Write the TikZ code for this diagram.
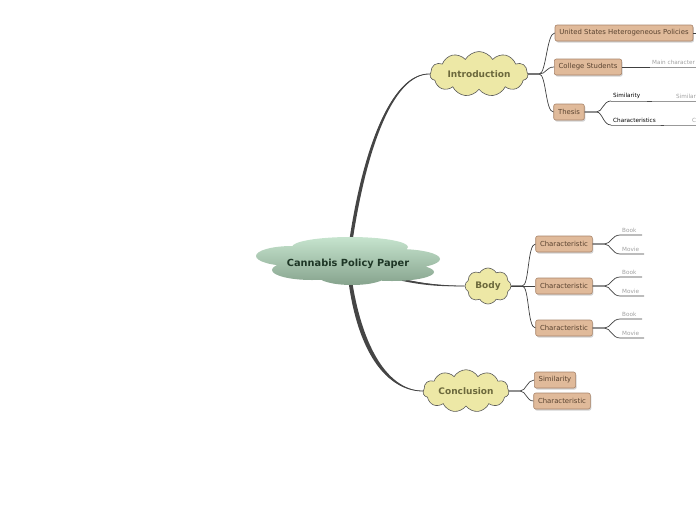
\documentclass[tikz,border=0pt]{standalone}
\usepackage{fontspec}
\setmainfont{DejaVu Sans}
\usetikzlibrary{shapes.symbols,shadows,backgrounds}

\definecolor{rootTop}{HTML}{C6E4CE}
\definecolor{rootBot}{HTML}{86A38D}
\definecolor{rootText}{HTML}{1E3626}
\definecolor{cloudFill}{HTML}{EDE8A6}
\definecolor{cloudText}{HTML}{6B683C}
\definecolor{boxFill}{HTML}{E0BA9A}
\definecolor{boxLine}{HTML}{A8846A}
\definecolor{boxText}{HTML}{5A4330}
\definecolor{trunk}{HTML}{454545}
\definecolor{leafGrey}{HTML}{A0A0A0}

\begin{document}
\begin{tikzpicture}[x=1pt,y=-1pt,
		rootlabel/.style={minimum width=184pt,minimum height=48pt,inner sep=0pt,
			text=rootText,font=\bfseries\fontsize{9.8}{11}\selectfont},
		subcloud/.style={shape=cloud,cloud puffs=10,cloud puff arc=120,inner sep=0pt,fill=cloudFill,
			draw=black!65,line width=0.6pt,text=cloudText,font=\bfseries\fontsize{9}{10}\selectfont},
		topicbox/.style={rounded corners=2pt,fill=boxFill,draw=boxLine,line width=0.6pt,minimum height=16pt,
			inner xsep=4.3pt,inner ysep=0pt,text=boxText,font=\fontsize{6.9}{8}\selectfont,
			drop shadow={shadow xshift=1pt,shadow yshift=-1.5pt,opacity=0.35}},
		leaf/.style={anchor=south west,inner xsep=2pt,inner ysep=2.5pt,font=\fontsize{5.7}{6.5}\selectfont},
		greyleaf/.style={leaf,text=leafGrey},
		branch/.style={draw=black!75,line width=0.7pt},
		underline/.style={draw=black!70,line width=0.7pt},
		greyline/.style={draw=black!40,line width=0.7pt}]
	\useasboundingbox (0,0) rectangle (696,520);

	% root cloud made of overlapping lobes
	\node[rootlabel] (root) at (348,262) {};
	\shade[top color=rootTop,bottom color=rootBot]
		(292,256) ellipse [x radius=36pt,y radius=10pt]
		(350,247) ellipse [x radius=58pt,y radius=10pt]
		(398,259) ellipse [x radius=42pt,y radius=10pt]
		(312,270) ellipse [x radius=40pt,y radius=10pt]
		(392,272) ellipse [x radius=42pt,y radius=9pt]
		(352,276) ellipse [x radius=34pt,y radius=9pt]
		(348,262) ellipse [x radius=70pt,y radius=14pt];
	\node[rootlabel] at ([yshift=-2pt]root.center) {Cannabis Policy Paper};

	% clouds
	\node[subcloud,minimum width=98pt,minimum height=34pt,aspect=2.8,cloud puffs=11] (intro) at (479,74) {Introduction};
	\node[subcloud,minimum width=46pt,minimum height=36pt,aspect=1.2,cloud puffs=8] (body) at (488,286) {Body};
	\node[subcloud,minimum width=86pt,minimum height=34pt,aspect=2.5,cloud puffs=11] (concl) at (466,391) {Conclusion};

	% main branches behind the clouds
	\begin{scope}[on background layer]
		\fill[trunk] ([xshift=-1.6pt]root.center) .. controls (360,150) and (392,72) .. (intro.west)
			.. controls (393,74) and (364,150) .. ([xshift=1.6pt]root.center) -- cycle;
		\fill[trunk] ([yshift=1.2pt]root.center) .. controls (400,283) and (440,286) .. (body.west)
			.. controls (440,287) and (400,286) .. ([yshift=-1.2pt]root.center) -- cycle;
		\fill[trunk] ([xshift=-1.6pt]root.center) .. controls (353,345) and (383,391) .. (concl.west)
			.. controls (385,390) and (358,340) .. ([xshift=1.6pt]root.center) -- cycle;
		\draw[trunk,line width=0.8pt] (root.center) .. controls (361,150) and (392,73) .. (intro.west);
		\draw[trunk,line width=0.8pt] (root.center) .. controls (400,284) and (440,286) .. (body.west);
		\draw[trunk,line width=0.8pt] (root.center) .. controls (354,343) and (384,391) .. (concl.west);
	\end{scope}

	% introduction
	\node[topicbox] (usPol) at (624,33) {United States Heterogeneous Policies};
	\node[topicbox] (students) at (588,67) {College Students};
	\node[topicbox] (thesis) at (569,112) {Thesis};

	\draw[branch] (intro.east) -- ++(11,0) .. controls +(7,0) and +(-8,0) .. (usPol.west);
	\draw[branch] (intro.east) -- ++(11,0) .. controls +(7,0) and +(-8,0) .. (students.west);
	\draw[branch] (intro.east) -- ++(11,0) .. controls +(7,0) and +(-8,0) .. (thesis.west);

	\draw[branch] (usPol.east) -- (700,33);
	\node[greyleaf] (mainChar) at (650,67) {Main character};
	\draw[branch] (students.east) -- (mainChar.south west);
	\draw[greyline] (mainChar.south west) -- (700,67);

	\node[leaf] (thesisSim) at (611,101) {Similarity};
	\node[leaf] (thesisChar) at (611,125) {Characteristics};
	\draw[branch] (thesis.east) -- ++(12,0) .. controls +(6,0) and +(-8,0) .. (thesisSim.south west);
	\draw[branch] (thesis.east) -- ++(12,0) .. controls +(6,0) and +(-8,0) .. (thesisChar.south west);
	\draw[underline] (thesisSim.south west) -- (thesisSim.south east) -- ++(10,0);
	\draw[underline] (thesisChar.south west) -- (thesisChar.south east) -- ++(6,0);
	\node[greyleaf] (simMore) at (674,101) {Similar};
	\node[greyleaf] (charMore) at (690,125) {C};
	\draw[greyline] (thesisSim.south east) ++(10,0) -- (700,101);
	\draw[greyline] (thesisChar.south east) ++(6,0) -- (700,125);

	% body
	\node[topicbox] (charA) at (564,244) {Characteristic};
	\node[topicbox] (charB) at (564,286) {Characteristic};
	\node[topicbox] (charC) at (564,328) {Characteristic};

	\draw[branch] (body.east) -- ++(11,0) .. controls +(7,0) and +(-8,0) .. (charA.west);
	\draw[branch] (body.east) -- (charB.west);
	\draw[branch] (body.east) -- ++(11,0) .. controls +(7,0) and +(-8,0) .. (charC.west);

	\node[greyleaf] (bookA) at (620,235) {Book};
	\node[greyleaf] (movieA) at (620,254) {Movie};
	\node[greyleaf] (bookB) at (620,277) {Book};
	\node[greyleaf] (movieB) at (620,296) {Movie};
	\node[greyleaf] (bookC) at (620,319) {Book};
	\node[greyleaf] (movieC) at (620,338) {Movie};

	\draw[branch] (charA.east) -- ++(12,0) .. controls +(6,0) and +(-8,0) .. (bookA.south west) -- ++(22,0);
	\draw[branch] (charA.east) -- ++(12,0) .. controls +(6,0) and +(-8,0) .. (movieA.south west) -- ++(24,0);
	\draw[branch] (charB.east) -- ++(12,0) .. controls +(6,0) and +(-8,0) .. (bookB.south west) -- ++(22,0);
	\draw[branch] (charB.east) -- ++(12,0) .. controls +(6,0) and +(-8,0) .. (movieB.south west) -- ++(24,0);
	\draw[branch] (charC.east) -- ++(12,0) .. controls +(6,0) and +(-8,0) .. (bookC.south west) -- ++(22,0);
	\draw[branch] (charC.east) -- ++(12,0) .. controls +(6,0) and +(-8,0) .. (movieC.south west) -- ++(24,0);

	% conclusion
	\node[topicbox] (concSim) at (555,380) {Similarity};
	\node[topicbox] (concChar) at (562,401) {Characteristic};

	\draw[branch] (concl.east) -- ++(11,0) .. controls +(6,0) and +(-7,0) .. (concSim.west);
	\draw[branch] (concl.east) -- ++(11,0) .. controls +(6,0) and +(-7,0) .. (concChar.west);
\end{tikzpicture}
\end{document}
